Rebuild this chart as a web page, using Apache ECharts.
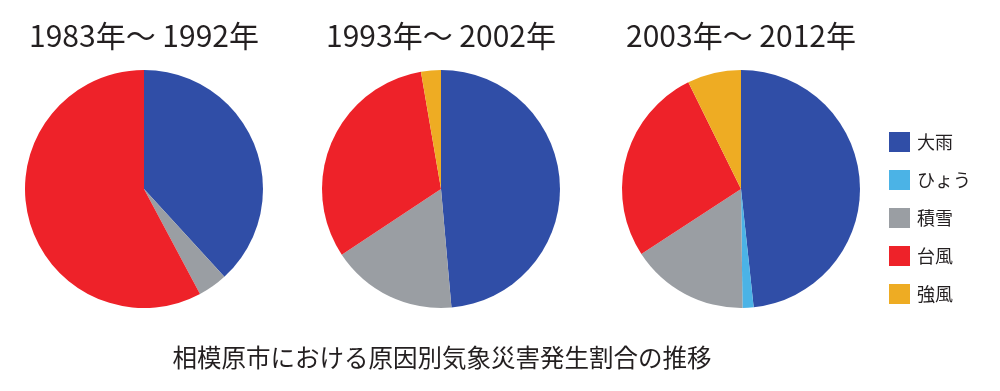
<!DOCTYPE html>
<html><head><meta charset="utf-8">
<script src="https://cdn.jsdelivr.net/npm/echarts@6/dist/echarts.min.js"></script>
<style>html,body{margin:0;padding:0;background:#fff}#c{width:1000px;height:391px}</style>
</head><body><div id="c"></div>
<script>
const categories = ['大雨', 'ひょう', '積雪', '台風', '強風'];
const colors = ['#304ea7', '#4bb3e6', '#9a9ea3', '#ee2229', '#eeac23'];
const periods = ['1983年～ 1992年', '1993年～ 2002年', '2003年～ 2012年'];
const values1983 = [38.2, 0, 4.0, 57.8, 0];
const values1993 = [48.6, 0, 17.1, 31.6, 2.7];
const values2003 = [48.3, 1.5, 16.0, 26.9, 7.3];
const caption = '相模原市における原因別気象災害発生割合の推移';

const FONT = '"Noto Sans CJK JP", "Noto Sans", sans-serif';
const centers = [[144, 189], [441, 189], [741, 189]];
const allValues = [values1983, values1993, values2003];

const chart = echarts.init(document.getElementById('c'), null, {renderer: 'canvas'});
const series = allValues.map((vals, i) => ({
  type: 'pie',
  center: centers[i],
  radius: 119,
  startAngle: 90,
  clockwise: true,
  label: {show: false},
  labelLine: {show: false},
  emphasis: {disabled: true},
  silent: true,
  animation: false,
  itemStyle: {borderWidth: 0},
  data: categories.map((c, k) => ({name: c, value: vals[k], itemStyle: {color: colors[k]}}))
}));

const graphics = periods.map((p, i) => ({
  type: 'text',
  x: centers[i][0],
  y: 36,
  style: {text: p, fontSize: 30, fontFamily: FONT, fill: '#231f20', align: 'center', verticalAlign: 'middle'}
}));
graphics.push({
  type: 'text', x: 442, y: 358,
  style: {text: caption, fontSize: 24.5, fontFamily: FONT, fill: '#231f20', align: 'center', verticalAlign: 'middle'}
});

chart.setOption({
  animation: false,
  color: colors,
  legend: {
    orient: 'vertical',
    left: 889,
    top: 132,
    padding: 0,
    itemWidth: 21,
    itemHeight: 20,
    itemGap: 18,
    selectedMode: false,
    icon: 'rect',
    data: categories,
    textStyle: {fontSize: 18, fontFamily: FONT, color: '#231f20', padding: [0, 0, 0, 2]}
  },
  series: series,
  graphic: graphics
});
</script></body></html>
